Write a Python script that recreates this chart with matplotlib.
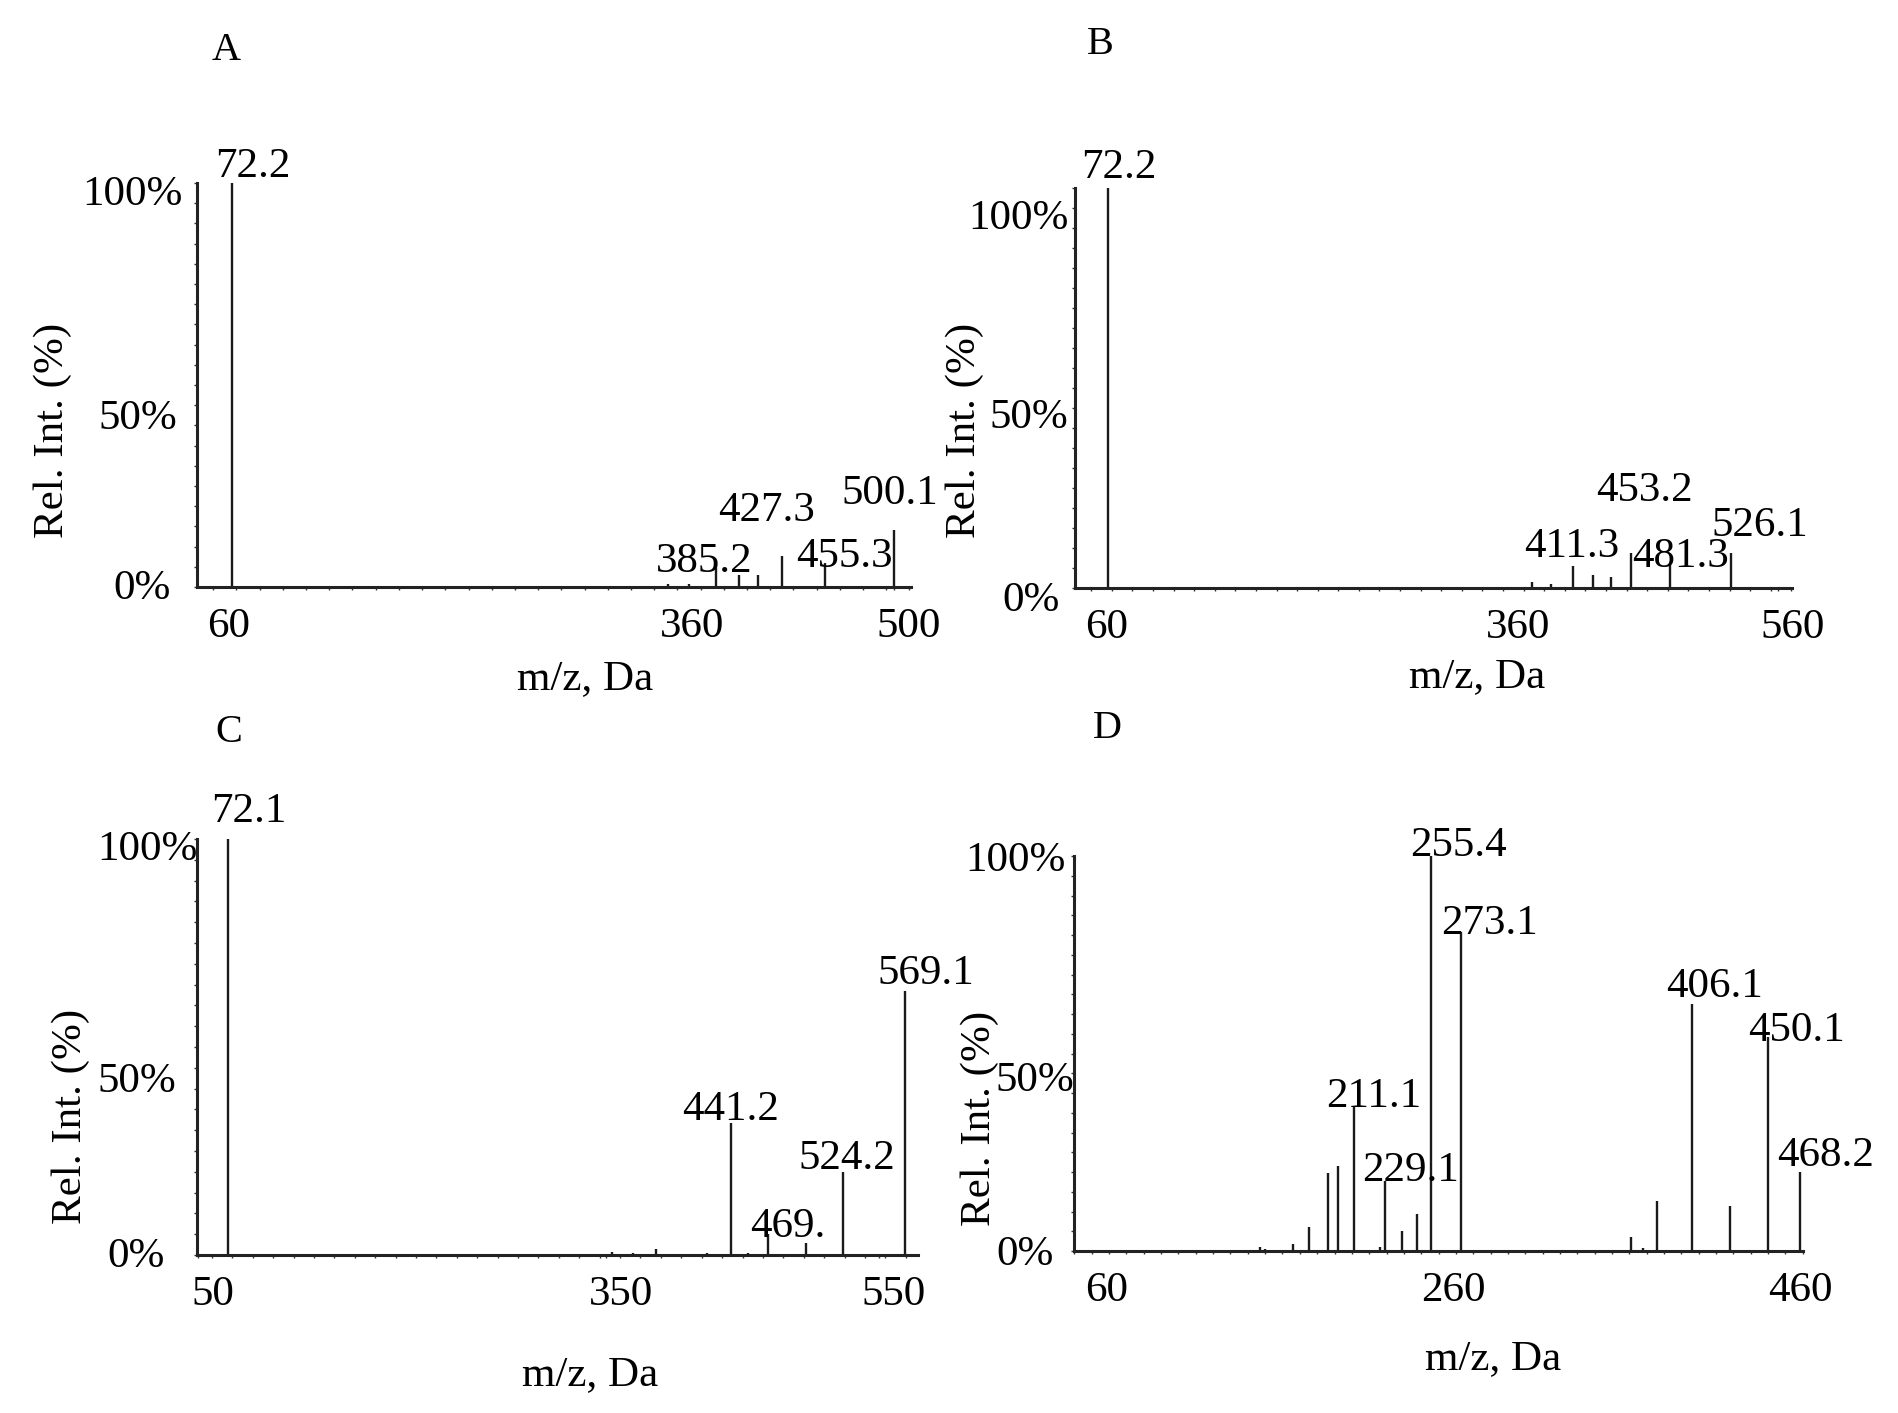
import matplotlib
matplotlib.use('Agg')
import matplotlib.pyplot as plt
from matplotlib.ticker import MultipleLocator
from matplotlib.transforms import Affine2D

plt.rcParams['font.family'] = ['Liberation Serif', 'DejaVu Serif']

# ---------------- data ----------------
# Panel A
a_mz = [72.2, 354.0, 367.4, 385.2, 400.1, 412.4, 427.3, 455.3, 500.1]
a_int = [100.0, 0.8, 0.8, 5.6, 2.9, 2.9, 7.7, 6.0, 14.2]
a_lab_mz = [72.2, 385.2, 427.3, 455.3, 500.1]
a_lab_txt = ["72.2", "385.2", "427.3", "455.3", "500.1"]
a_xticks = [60, 360, 500]

# Panel B
b_mz = [72.2, 381.1, 395.0, 411.3, 425.8, 438.5, 453.2, 481.3, 526.1]
b_int = [100.0, 1.5, 1.0, 5.6, 3.3, 2.8, 8.8, 6.0, 8.8]
b_lab_mz = [72.2, 411.3, 453.2, 481.3, 526.1]
b_lab_txt = ["72.2", "411.3", "453.2", "481.3", "526.1"]
b_xticks = [60, 360, 560]

# Panel C
c_mz = [72.1, 353.7, 369.6, 386.3, 423.9, 441.2, 454.1, 469.0, 496.5, 524.2, 569.1]
c_int = [100.0, 0.8, 0.6, 1.4, 0.5, 31.8, 0.5, 5.0, 3.0, 20.0, 63.4]
c_lab_mz = [72.1, 441.2, 469.0, 524.2, 569.1]
c_lab_txt = ["72.1", "441.2", "469.", "524.2", "569.1"]
c_xticks = [50, 350, 550]

# Panel D
d_mz = [157.0, 159.9, 176.2, 185.3, 196.1, 202.2, 211.1, 226.5, 229.1, 239.1,
        247.4, 255.4, 273.1, 370.9, 378.0, 386.1, 406.1, 428.0, 450.1, 468.2]
d_int = [1.0, 0.6, 1.7, 6.2, 19.7, 21.6, 36.7, 1.0, 17.7, 5.1,
         9.4, 100.0, 80.8, 3.5, 0.8, 12.7, 62.6, 11.5, 54.3, 20.1]
d_lab_mz = [255.4, 273.1, 211.1, 229.1, 406.1, 450.1, 468.2]
d_lab_txt = ["255.4", "273.1", "211.1", "229.1", "406.1", "450.1", "468.2"]
d_xticks = [60, 260, 460]

y_ticks = [0, 50, 100]
y_ticklabels = ["0%", "50%", "100%"]
panel_letters = ["A", "B", "C", "D"]
x_label = "m/z, Da"
y_label = "Rel. Int. (%)"

# ---------------- layout / style ----------------
W, H = 1899, 1413
fig = plt.figure(figsize=(W / 100, H / 100), dpi=100)

FS = 31
INK = '#1a1a1a'

panels = [
    dict(mz=a_mz, it=a_int, lmz=a_lab_mz, ltx=a_lab_txt, xt=a_xticks,
         box=(197, 183, 911, 587), xlim=(49.5, 511), minor=15,
         loff=[(21, 21), (-12, 7), (-15, 49), (20, 10), (-4, 40)],
         yoff=[(-19, 3), (-12, -29), (-7, -7)],
         letter=(226, 50), ylab=(53, 430), xlab=(585, 679)),
    dict(mz=b_mz, it=b_int, lmz=b_lab_mz, ltx=b_lab_txt, xt=b_xticks,
         box=(1075, 187.5, 1792, 588), xlim=(48.2, 570.5), minor=15,
         loff=[(11, 24), (-2, 23), (13, 66), (11, 11), (29, 31)],
         yoff=[(-8, -8), (1, -25), (1, -27)],
         letter=(1100, 44), ylab=(965, 430), xlab=(1477, 677)),
    dict(mz=c_mz, it=c_int, lmz=c_lab_mz, ltx=c_lab_txt, xt=c_xticks,
         box=(197, 839, 918, 1255), xlim=(49, 579), minor=15,
         loff=[(20, 31), (0, 17), (19, 12), (3, 17), (21, 22)],
         yoff=[(-25, 3), (-13, -30), (8, -6)],
         letter=(229, 733), ylab=(71, 1116), xlab=(590, 1375)),
    dict(mz=d_mz, it=d_int, lmz=d_lab_mz, ltx=d_lab_txt, xt=d_xticks,
         box=(1074, 856, 1803, 1251), xlim=(49.8, 470.1), minor=10,
         loff=[(28, 15), (28, 12), (20, 14), (26, 15), (23, 21), (28, 10), (26, 20)],
         yoff=[(-13, 1), (8, -23), (-1, 0)],
         letter=(1107, 729), ylab=(980, 1118), xlab=(1493, 1359)),
]

DIGIT_HALF = 14.5  # px from visual centre of digits to baseline

for p, letter in zip(panels, panel_letters):
    l, t, r, b = p['box']
    ax = fig.add_axes([l / W, 1 - b / H, (r - l) / W, (b - t) / H])
    ax.vlines(p['mz'], 0, p['it'], colors=INK, lw=1.7, clip_on=False)
    ax.set_xlim(*p['xlim'])
    ax.set_ylim(0, 100)
    for s in ['top', 'right']:
        ax.spines[s].set_visible(False)
    for s in ['left', 'bottom']:
        ax.spines[s].set_linewidth(2.2)
        ax.spines[s].set_color('#222222')
    ax.set_xticks(p['xt'])
    ax.set_xticklabels([str(v) for v in p['xt']])
    ax.set_yticks(y_ticks)
    ax.set_yticklabels(y_ticklabels)
    ax.xaxis.set_minor_locator(MultipleLocator(p['minor']))
    ax.yaxis.set_minor_locator(MultipleLocator(5))
    ax.tick_params(axis='x', which='both', direction='out', length=2.5, width=1.0,
                   color='#333333', labelsize=FS, pad=12.5)
    ax.tick_params(axis='y', which='both', direction='out', length=2.5, width=1.0,
                   color='#333333', labelsize=FS, pad=3)
    # label shifts (rendering quirks of the original software)
    for tk in ax.xaxis.get_major_ticks():
        tk.label1.set_transform(tk.label1.get_transform() + Affine2D().translate(15, 0))
    for tk, (dx, dy) in zip(ax.yaxis.get_major_ticks(), p['yoff']):
        tk.label1.set_transform(tk.label1.get_transform() + Affine2D().translate(dx, dy))

    # peak annotations
    it_of = dict(zip(p['mz'], p['it']))
    for mz, txt, (dx, dy) in zip(p['lmz'], p['ltx'], p['loff']):
        ax.annotate(txt, xy=(mz, it_of[mz]), xytext=(dx, dy - DIGIT_HALF),
                    textcoords='offset pixels', ha='center', va='baseline',
                    fontsize=FS, color='black', annotation_clip=False)

    lx, ly = p['letter']
    fig.text(lx / W, 1 - ly / H, letter, fontsize=29, ha='center', va='center')
    yx, yy = p['ylab']
    fig.text(yx / W, 1 - yy / H, y_label, fontsize=FS, rotation=90,
             ha='center', va='center')
    xx, xy = p['xlab']
    fig.text(xx / W, 1 - xy / H, x_label, fontsize=FS, ha='center', va='center')

fig.savefig('out.png', dpi=100, facecolor='white')
